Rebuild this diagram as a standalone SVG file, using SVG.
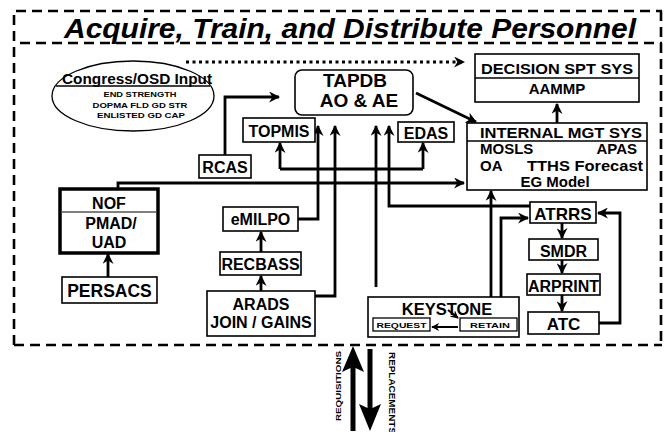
<svg xmlns="http://www.w3.org/2000/svg" width="664" height="432" viewBox="0 0 664 432">
<defs>
<marker id="ah" viewBox="0 0 10 10" refX="9" refY="5" markerWidth="11" markerHeight="11" markerUnits="userSpaceOnUse" orient="auto"><path d="M0,0 L10,5 L0,10 L3,5 z" fill="#000"/></marker>
<marker id="ahs" viewBox="0 0 10 10" refX="9" refY="5" markerWidth="8" markerHeight="8" markerUnits="userSpaceOnUse" orient="auto"><path d="M0,0 L10,5 L0,10 L3,5 z" fill="#000"/></marker>
</defs>
<style>
.frame{fill:none;stroke:#000;stroke-width:2.6;stroke-dasharray:10 6}
.box{fill:#fff;stroke:#000;stroke-width:1.6}
.t{font-family:"Liberation Sans",Arial,sans-serif;font-weight:bold;fill:#000;text-anchor:middle}
.c{fill:none;stroke:#000;stroke-width:2.8}
.ca{fill:none;stroke:#000;stroke-width:2.8;marker-end:url(#ah)}
</style>
<rect width="664" height="432" fill="#fff"/>

<g id="frame">
<path class="frame" d="M14,345 L14,11 L662,11"/>
<path class="frame" d="M14,345 L662,345"/>
<path class="frame" d="M661,11 L661,345"/>
<path class="frame" d="M20,43 L662,43"/>
<text x="350" y="38" class="t" font-size="27" font-style="italic" textLength="572" lengthAdjust="spacingAndGlyphs">Acquire, Train, and Distribute  Personnel</text>
</g>

<g id="connectors">
<path d="M186,62 L464,62" fill="none" stroke="#000" stroke-width="3" stroke-dasharray="3 3.5" marker-end="url(#ah)"/>
<path class="ca" d="M225,155 L225,97 L279,97"/>
<path class="ca" d="M416,93 L476,122"/>
<path class="ca" d="M557,123 L557,104"/>
<path class="c" d="M280,169 L423,169"/>
<path class="ca" d="M280,169 L280,143"/>
<path class="ca" d="M423,169 L423,143"/>
<path class="ca" d="M298,219 L318,219 L318,126"/>
<path class="ca" d="M315,296 L335,296 L335,126"/>
<path class="ca" d="M376,287 L376,126"/>
<path class="ca" d="M530,206 L389,206 L389,126"/>
<path class="ca" d="M118,189 L118,183 L464,183"/>
<path class="ca" d="M491,297 L491,191"/>
<path class="ca" d="M501,297 L501,218 L528,218"/>
<path class="ca" d="M562,223 L562,238"/>
<path class="ca" d="M562,260 L562,273"/>
<path class="ca" d="M562,295 L562,311"/>
<path class="ca" d="M599,323 L620,323 L620,213 L598,213"/>
<path class="ca" d="M108,277 L108,254"/>
<path class="ca" d="M261,252 L261,232"/>
<path class="ca" d="M261,291 L261,276"/>
<path d="M350.5,431 L350.5,368 L342,372 L353,346 L364,372 L355.5,368 L355.5,431 z" fill="#000"/>
<path d="M367.5,349 L367.5,408 L359,404 L370,431 L381,404 L372.5,408 L372.5,349 z" fill="#000"/>
<text transform="translate(341,386) rotate(-90)" class="t" font-size="8" textLength="70" lengthAdjust="spacingAndGlyphs">REQUISITIONS</text>
<text transform="translate(389,352) rotate(90)" font-family="Liberation Sans,Arial,sans-serif" font-weight="bold" font-size="8.5" textLength="82" lengthAdjust="spacingAndGlyphs">REPLACEMENTS</text>
</g>

<g id="congress">
<ellipse cx="133" cy="96" rx="81" ry="35" fill="#fff" stroke="#000" stroke-width="1.3"/>
<line x1="56" y1="86" x2="210" y2="86" stroke="#000" stroke-width="1.3"/>
<text x="137" y="84" class="t" font-size="14" textLength="150" lengthAdjust="spacingAndGlyphs">Congress/OSD Input</text>
<text x="140" y="97" class="t" font-size="7.5" textLength="73" lengthAdjust="spacingAndGlyphs">END STRENGTH</text>
<text x="140" y="107.5" class="t" font-size="7.5" textLength="95" lengthAdjust="spacingAndGlyphs">DOPMA FLD GD STR</text>
<text x="141" y="118" class="t" font-size="7.5" textLength="88" lengthAdjust="spacingAndGlyphs">ENLISTED GD CAP</text>
</g>

<g id="decision">
<rect class="box" x="475" y="54" width="164" height="48"/>
<line x1="475" y1="78" x2="639" y2="78" stroke="#000" stroke-width="1.6"/>
<text x="557" y="74" class="t" font-size="15.5" textLength="152" lengthAdjust="spacingAndGlyphs">DECISION SPT SYS</text>
<text x="557" y="94" class="t" font-size="15">AAMMP</text>
</g>

<g id="tapdb">
<rect class="box" x="295" y="70" width="118" height="45" rx="7"/>
<text x="355" y="87" class="t" font-size="19">TAPDB</text>
<text x="359" y="107" class="t" font-size="19">AO &amp; AE</text>
</g>

<g id="topmis">
<rect class="box" x="243" y="118" width="72" height="24"/>
<text x="279" y="137" class="t" font-size="16">TOPMIS</text>
</g>

<g id="edas">
<rect class="box" x="398" y="122" width="56" height="20"/>
<text x="426" y="139" class="t" font-size="16">EDAS</text>
</g>

<g id="rcas">
<rect class="box" x="199" y="155" width="52" height="23"/>
<text x="225" y="173" class="t" font-size="16">RCAS</text>
</g>

<g id="internal">
<rect class="box" x="467" y="123" width="180" height="67"/>
<line x1="467" y1="141" x2="647" y2="141" stroke="#000" stroke-width="1.6"/>
<text x="561" y="138" class="t" font-size="15.5" textLength="162" lengthAdjust="spacingAndGlyphs">INTERNAL MGT SYS</text>
<text x="480" y="154" class="t" font-size="15" style="text-anchor:start">MOSLS</text>
<text x="637" y="154" class="t" font-size="15" style="text-anchor:end">APAS</text>
<text x="480" y="171" class="t" font-size="15" style="text-anchor:start">OA</text>
<text x="585" y="171" class="t" font-size="15" textLength="116" lengthAdjust="spacingAndGlyphs">TTHS Forecast</text>
<text x="555" y="187" class="t" font-size="15">EG Model</text>
</g>

<g id="nof">
<rect x="60" y="189" width="98" height="64" fill="#fff" stroke="#000" stroke-width="3.5"/>
<line x1="62" y1="212" x2="156" y2="212" stroke="#000" stroke-width="1.2"/>
<text x="109" y="209" class="t" font-size="16">NOF</text>
<text x="111" y="229" class="t" font-size="16">PMAD/</text>
<text x="109" y="248" class="t" font-size="16">UAD</text>
</g>

<g id="persacs">
<rect class="box" x="62" y="277" width="95" height="26"/>
<text x="109.5" y="297" class="t" font-size="17.5">PERSACS</text>
</g>

<g id="emilpo">
<rect class="box" x="223" y="207" width="75" height="24"/>
<text x="260.5" y="225" class="t" font-size="16">eMILPO</text>
</g>

<g id="recbass">
<rect class="box" x="220" y="252" width="81" height="23"/>
<text x="260.5" y="270" class="t" font-size="16">RECBASS</text>
</g>

<g id="arads">
<rect class="box" x="207" y="291" width="108" height="45"/>
<text x="261" y="310" class="t" font-size="16">ARADS</text>
<text x="261" y="328" class="t" font-size="16">JOIN / GAINS</text>
</g>

<g id="keystone">
<rect class="box" x="368" y="297" width="151" height="40"/>
<text x="447" y="315" class="t" font-size="16.5">KEYSTONE</text>
<rect x="373" y="318" width="57" height="13" fill="#fff" stroke="#000" stroke-width="1.3"/>
<text x="401.5" y="328" class="t" font-size="7.5" textLength="50" lengthAdjust="spacingAndGlyphs">REQUEST</text>
<rect x="460" y="318" width="57" height="13" fill="#fff" stroke="#000" stroke-width="1.3"/>
<text x="490" y="328" class="t" font-size="7.5" textLength="40" lengthAdjust="spacingAndGlyphs">RETAIN</text>
<path d="M448,310 L458,318" fill="none" stroke="#000" stroke-width="2" marker-end="url(#ahs)"/>
<path d="M458,327 L432,327" fill="none" stroke="#000" stroke-width="2" marker-end="url(#ahs)"/>
</g>

<g id="atrrs">
<rect class="box" x="530" y="202" width="66" height="21"/>
<text x="563" y="220" class="t" font-size="17">ATRRS</text>
</g>

<g id="smdr">
<rect class="box" x="529" y="239" width="69" height="21"/>
<text x="563.5" y="257" class="t" font-size="16">SMDR</text>
</g>

<g id="arprint">
<rect class="box" x="527" y="274" width="73" height="21"/>
<text x="563.5" y="292" class="t" font-size="16">ARPRINT</text>
</g>

<g id="atc">
<rect class="box" x="528" y="312" width="71" height="22"/>
<text x="563.5" y="330" class="t" font-size="17">ATC</text>
</g>
</svg>
